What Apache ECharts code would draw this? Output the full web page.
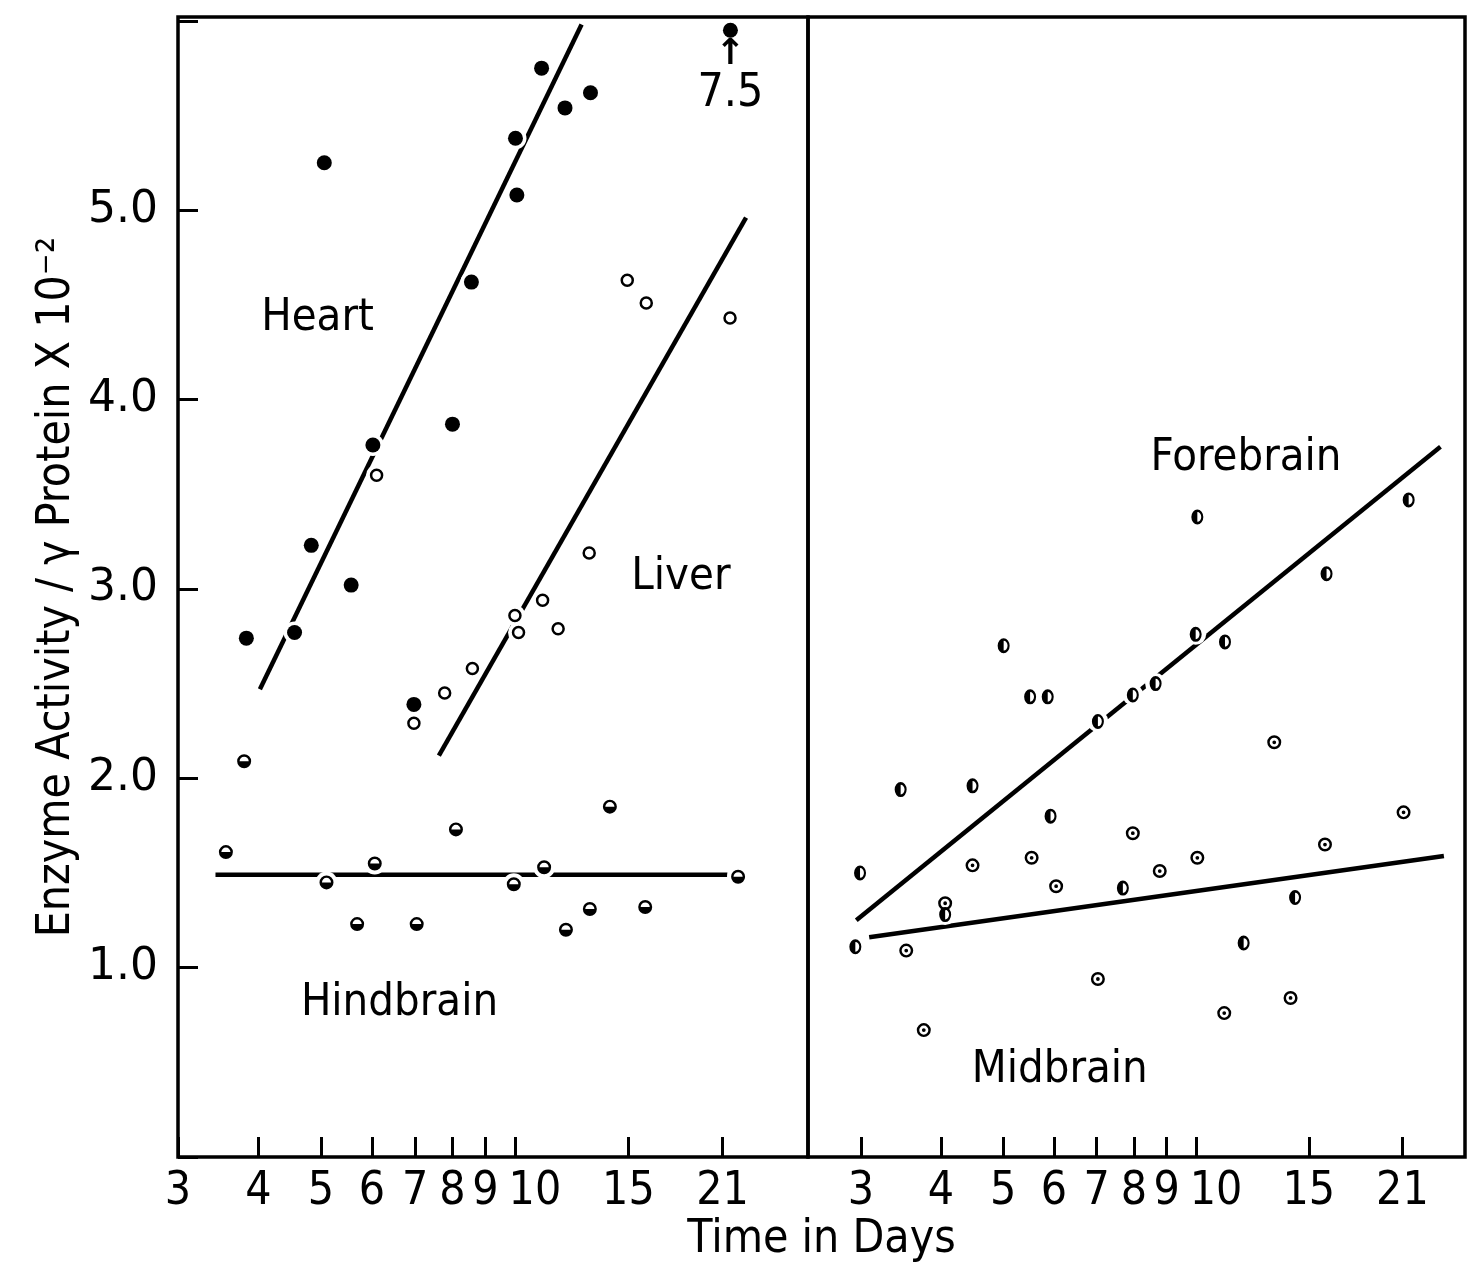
<!DOCTYPE html>
<html>
<head>
<meta charset="utf-8">
<title>Enzyme activity</title>
<script src="https://cdn.jsdelivr.net/npm/echarts@6/dist/echarts.min.js"></script>
<style>html,body{margin:0;padding:0;background:#fff;}</style>
</head>
<body>
<div id="main" style="width:1471px;height:1268px;"></div>
<script>
// tick labels
var tickDays = [3, 4, 5, 6, 7, 8, 9, 10, 15, 21];
var yTicks = [0, 1, 2, 3, 4, 5, 6];
var yLabels = [1, 2, 3, 4, 5];

// left panel
var heartDays = [3.83, 4.55, 4.83, 5.06, 5.57, 6.02, 6.97, 8.00, 8.56, 10.02, 10.07, 11.0, 11.96, 13.1];
var heartValues = [2.74, 2.77, 3.23, 5.25, 3.02, 3.76, 2.39, 3.87, 4.62, 5.38, 5.08, 5.75, 5.54, 5.62];
var heartOffScale = [21.6, 5.95]; // drawn at the top, real value 7.5
var liverDays = [6.10, 6.97, 7.78, 8.59, 10.0, 10.13, 11.04, 11.67, 13.04, 14.94, 15.99, 21.57];
var liverValues = [3.60, 2.29, 2.45, 2.58, 2.86, 2.77, 2.94, 2.79, 3.19, 4.63, 4.51, 4.43];
var hindDays = [3.56, 3.80, 5.10, 5.69, 6.06, 7.04, 8.10, 9.96, 11.1, 12.0, 13.07, 14.04, 15.93, 22.2];
var hindValues = [1.61, 2.09, 1.45, 1.23, 1.55, 1.23, 1.73, 1.44, 1.53, 1.20, 1.31, 1.85, 1.32, 1.48];

// right panel
var foreDays = [2.94, 2.99, 3.46, 4.06, 4.48, 5.01, 5.51, 5.87, 5.93, 7.03, 7.69, 7.97, 8.65, 9.99, 10.05, 11.1, 11.87, 14.28, 15.99, 21.48];
var foreValues = [1.11, 1.50, 1.94, 1.28, 1.96, 2.70, 2.43, 2.43, 1.80, 2.30, 1.42, 2.44, 2.50, 2.76, 3.38, 2.72, 1.13, 1.37, 3.08, 3.47];
var midDays = [3.53, 3.76, 4.06, 4.48, 5.54, 6.05, 7.03, 7.97, 8.78, 10.05, 11.07, 13.25, 14.05, 15.9, 21.09];
var midValues = [1.09, 0.67, 1.34, 1.54, 1.58, 1.43, 0.94, 1.71, 1.51, 1.58, 0.76, 2.19, 0.84, 1.65, 1.82];

// fitted lines, [day, value] at each end
var heartFit = [[4.02, 2.47], [12.69, 5.98]];
var liverFit = [[7.62, 2.12], [22.84, 4.96]];
var hindFit = [[3.43, 1.49], [21.37, 1.49]];
var foreFit = [[2.95, 1.25], [24.08, 3.75]];
var midFit = [[3.09, 1.16], [24.38, 1.59]];

// text in the panels: [day, value, text]
var leftNotes = [[4.94, 4.43, 'Heart'], [18.1, 3.06, 'Liver'], [6.62, 0.81, 'Hindbrain']];
var rightNotes = [[11.97, 3.69, 'Forebrain'], [6.13, 0.46, 'Midbrain']];

var FONT = "'DejaVu Sans Condensed', 'Liberation Sans Narrow', 'Roboto Condensed', 'DejaVu Sans', sans-serif";
var RING = 'M10 0A10 10 0 1 1 10 20A10 10 0 1 1 10 0Z M10 3.5A6.5 6.5 0 1 0 10 16.5A6.5 6.5 0 1 0 10 3.5Z';
var SYM_HIND = 'path://' + RING + ' M3.5 10L16.5 10A6.5 6.5 0 0 1 3.5 10Z';
var SYM_FORE = 'path://' + RING + ' M10 3.5L10 16.5A6.5 6.5 0 0 1 10 3.5Z';
var SYM_MID = 'path://' + RING + ' M10 7.3A2.7 2.7 0 1 1 10 12.7A2.7 2.7 0 1 1 10 7.3Z';

function lg(d) { return Math.log10(d); }
function pts(days, vals) {
    return days.map(function (d, i) { return [lg(d), vals[i]]; });
}

function fitLine(fit, ax) {
    return {
        type: 'line', xAxisIndex: ax, yAxisIndex: ax, silent: true, z: 1,
        symbol: 'none', data: fit.map(function (p) { return [lg(p[0]), p[1]]; }),
        lineStyle: { color: '#000', width: 4.5, opacity: 1 }
    };
}
function halo(data, ax, size) {
    return {
        type: 'scatter', xAxisIndex: ax, yAxisIndex: ax, silent: true, z: 2,
        data: data, symbol: 'circle', symbolSize: size, itemStyle: { color: '#fff', opacity: 1 }
    };
}
function marks(data, ax, symbol, size, style) {
    style.opacity = 1;
    return {
        type: 'scatter', xAxisIndex: ax, yAxisIndex: ax, silent: true, z: 3,
        data: data, symbol: symbol, symbolSize: size, itemStyle: style
    };
}
function notes(list, ax) {
    return {
        type: 'scatter', xAxisIndex: ax, yAxisIndex: ax, silent: true, z: 4,
        symbolSize: 1, itemStyle: { color: 'rgba(0,0,0,0)', opacity: 1 },
        data: list.map(function (n) { return { value: [lg(n[0]), n[1]], name: n[2] }; }),
        label: {
            show: true, position: 'inside', formatter: '{b}', color: '#000',
            fontFamily: FONT, fontSize: 45
        }
    };
}

function dayAxis(grid, lo, hi) {
    var vals = tickDays.map(lg);
    return {
        type: 'value', gridIndex: grid, min: lg(lo), max: lg(hi),
        splitLine: { show: false },
        axisLine: { show: false },
        axisTick: { show: true, inside: true, length: 20, customValues: vals, lineStyle: { color: '#000', width: 3 } },
        axisLabel: {
            show: true, customValues: vals, margin: 12, color: '#000', fontFamily: FONT, fontSize: 46,
            formatter: function (v) {
                var d = Math.round(Math.pow(10, v));
                return d === 10 ? '{ten|10}' : String(d);
            },
            rich: { ten: { padding: [0, 0, 0, 40], color: '#000', fontFamily: FONT, fontSize: 46 } }
        }
    };
}

var heartPts = pts(heartDays, heartValues);
var liverPts = pts(liverDays, liverValues);
var hindPts = pts(hindDays, hindValues);
var forePts = pts(foreDays, foreValues);
var midPts = pts(midDays, midValues);
var offPt = [lg(heartOffScale[0]), heartOffScale[1]];

var myChart = echarts.init(document.getElementById('main'));
var option = {
    animation: false,
    backgroundColor: '#fff',
    grid: [
        { left: 178, top: 17, width: 630, height: 1140, show: true, borderColor: '#000', borderWidth: 3.5 },
        { left: 808, top: 17, width: 657, height: 1140, show: true, borderColor: '#000', borderWidth: 3.5 },
        { left: 178, top: 17, width: 1287, height: 1140, show: false }
    ],
    xAxis: [
        dayAxis(0, 3, 28.5),
        dayAxis(1, 2.48, 26.3),
        {
            type: 'value', gridIndex: 2, min: 0, max: 1,
            axisLine: { show: false }, axisTick: { show: false }, axisLabel: { show: false }, splitLine: { show: false },
            name: 'Time in Days', nameLocation: 'middle', nameGap: 60,
            nameTextStyle: { color: '#000', fontFamily: FONT, fontSize: 46 }
        }
    ],
    yAxis: [
        {
            type: 'value', gridIndex: 0, min: 0, max: 6.02,
            splitLine: { show: false }, axisLine: { show: false },
            axisTick: { show: true, inside: true, length: 20, customValues: yTicks, lineStyle: { color: '#000', width: 3 } },
            axisLabel: {
                customValues: yLabels, margin: 20, color: '#000', fontFamily: 'DejaVu Sans', fontSize: 44,
                formatter: function (v) { return v.toFixed(1); }
            },
            name: 'Enzyme Activity / \u03b3 Protein X 10\u207b\u00b2', nameLocation: 'middle', nameRotate: 90, nameGap: 98,
            nameTextStyle: { color: '#000', fontFamily: FONT, fontSize: 46 }
        },
        {
            type: 'value', gridIndex: 1, min: 0, max: 6.02,
            splitLine: { show: false }, axisLine: { show: false }, axisTick: { show: false }, axisLabel: { show: false }
        },
        { type: 'value', gridIndex: 2, min: 0, max: 1, show: false }
    ],
    series: [
        fitLine(heartFit, 0),
        fitLine(liverFit, 0),
        fitLine(hindFit, 0),
        fitLine(foreFit, 1),
        fitLine(midFit, 1),
        halo(heartPts.concat([offPt]), 0, 22),
        halo(liverPts, 0, 21),
        halo(hindPts, 0, 22),
        halo(forePts, 1, 21),
        halo(midPts, 1, 21),
        marks(heartPts, 0, 'circle', 15, { color: '#000' }),
        {
            type: 'scatter', xAxisIndex: 0, yAxisIndex: 0, silent: true, z: 3,
            data: [offPt], symbol: 'circle', symbolSize: 15, itemStyle: { color: '#000', opacity: 1 },
            label: {
                show: true, position: 'bottom', distance: 2, formatter: '{a|\u2191}\n{b|7.5}',
                rich: {
                    a: { color: '#000', fontFamily: 'DejaVu Sans', fontSize: 36, fontWeight: 'bold', lineHeight: 30, align: 'center' },
                    b: { color: '#000', fontFamily: FONT, fontSize: 46, lineHeight: 48, align: 'center' }
                }
            }
        },
        marks(liverPts, 0, 'circle', 11, { color: '#fff', borderColor: '#000', borderWidth: 2.5 }),
        marks(hindPts, 0, SYM_HIND, 14, { color: '#000' }),
        marks(forePts, 1, SYM_FORE, [12, 15], { color: '#000' }),
        marks(midPts, 1, SYM_MID, 14, { color: '#000' }),
        notes(leftNotes, 0),
        notes(rightNotes, 1)
    ]
};
myChart.setOption(option);
</script>
</body>
</html>
